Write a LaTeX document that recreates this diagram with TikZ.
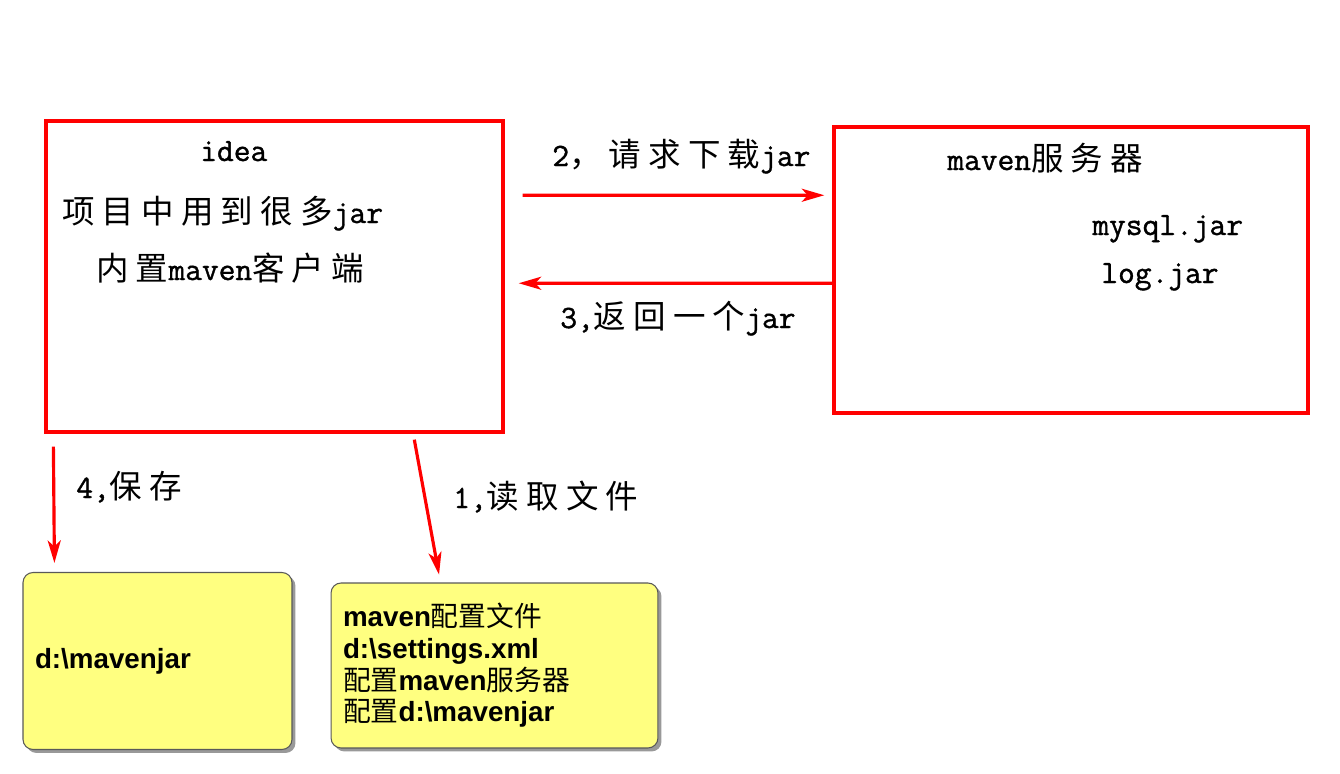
\documentclass[tikz,border=0pt]{standalone}
\usepackage{fontspec}
\setmainfont[FakeBold=1.2]{Latin Modern Mono}
\newfontfamily\zhfont[LetterSpace=22]{Noto Sans CJK SC}
\newfontfamily\notefont{Liberation Sans}
\newfontfamily\notezh{Noto Sans CJK SC}
\usetikzlibrary{arrows.meta, shadows}

\definecolor{notefill}{RGB}{255,255,128}
\newcommand{\zh}[1]{{\zhfont #1}}
\newcommand{\nzh}[1]{{\notezh\mdseries #1}}

\begin{document}
\begin{tikzpicture}[x=0.02cm, y=-0.02cm,
    redbox/.style={draw=red, line width=2pt, inner sep=0pt},
    notebox/.style={draw=gray!70!black, line width=0.6pt, fill=notefill,
    rounded corners=0.2cm, align=left, inner xsep=0.24cm,
    font=\notefont\bfseries\fontsize{15.8}{18}\selectfont,
    drop shadow={shadow xshift=0.07cm, shadow yshift=-0.07cm,
    fill=black, opacity=0.4}},
    txt/.style={anchor=base west, inner sep=0pt,
    font=\fontsize{18.5}{20}\selectfont},
    flow/.style={draw=red, line width=1.8pt,
    -{Stealth[length=0.45cm, width=0.26cm, inset=0.12cm]}}]

    \useasboundingbox (0,0) rectangle (1340,774);

    % Client and server
    \node[redbox, minimum width=9.14cm, minimum height=6.22cm]
    (idea) at (274.5,276.5) {};
    \node[redbox, minimum width=9.48cm, minimum height=5.72cm]
    (srv) at (1071,270) {};

    \node[txt] (ideatitle) at (200,161) {idea};
    \node[txt] (ideajars) at (62,223) {\zh{项目中用到很多}jar};
    \node[txt] (ideaclient) at (96,280) {\zh{内置}maven\zh{客户端}};

    \node[txt] (srvtitle) at (947,170) {maven\zh{服务器}};
    \node[txt] (mysqljar) at (1092,235) {mysql.jar};
    \node[txt] (logjar) at (1101,283) {log.jar};

    % Local files
    \node[notebox, text width=4.9cm, minimum height=3.54cm]
    (save) at (157.5,661) {d:\textbackslash mavenjar};
    \node[notebox, text width=6.06cm, minimum height=3.3cm]
    (conf) at (494.5,665.5) {maven\nzh{配置文件}\\
    d:\textbackslash settings.xml\\
    \nzh{配置}maven\nzh{服务器}\\
    \nzh{配置}d:\textbackslash mavenjar};

    % Requests
    \draw[flow, shorten <=0.36cm, shorten >=0.16cm]
    ([yshift=-1.52cm]idea.north east) -- ([yshift=-1.4cm]srv.north west);
    \draw[flow, shorten >=0.28cm]
    ([yshift=-3.16cm]srv.north west) -- ([yshift=-3.28cm]idea.north east);
    \draw[flow, shorten <=0.26cm, shorten >=0.18cm]
    ([xshift=0.18cm]idea.south west) -- ([xshift=0.64cm]save.north west);
    \draw[flow, shorten <=0.12cm, shorten >=0.16cm]
    ([xshift=7.38cm]idea.south west) -- ([xshift=2.2cm]conf.north west);

    \node[txt] (reqlabel) at (552,166) {2\zh{，请求下载}jar};
    \node[txt] (retlabel) at (560,328) {3,\zh{返回一个}jar};
    \node[txt] (savelabel) at (76,498) {4,\zh{保存}};
    \node[txt] (readlabel) at (453,508) {1,\zh{读取文件}};

\end{tikzpicture}
\end{document}
